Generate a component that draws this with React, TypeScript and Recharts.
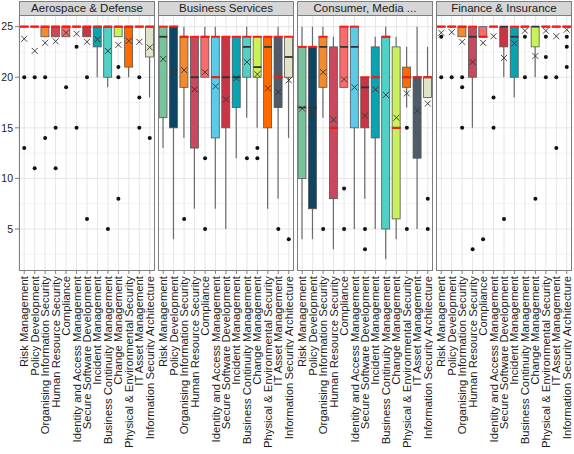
import { Bar, CartesianGrid, ComposedChart, Scatter, XAxis, YAxis } from "recharts"

const FONT = "'Liberation Sans', Arial, Helvetica, sans-serif"

const categories = [
  "Risk Management",
  "Policy Development",
  "Organising Information Security",
  "Human Resource Security",
  "Compliance",
  "Identity and Access Management",
  "Secure Software Development",
  "Incident Management",
  "Business Continuity Management",
  "Change Management",
  "Physical & Environmental Security",
  "IT Asset Management",
  "Information Security Architecture",
]

const colors = [
  "#78c39c", "#0f4564", "#f28b30", "#c9485c", "#fa6b6b", "#5ccbe8", "#cc3344",
  "#0aa3b2", "#4fd1c5", "#c9f25a", "#ff6a00", "#4f5b69", "#dfe3c8",
]

const yTicks = [5, 10, 15, 20, 25]
const yMinor = [2.5, 7.5, 12.5, 17.5, 22.5]

// Aerospace & Defense
const aeroLow = [25, 25, 24, 24, 24, 25, 24, 20, 19, 24, 20, 25, 18]
const aeroQ1 = [25, 25, 24, 24, 24, 25, 24, 23, 20, 24, 21, 25, 22]
const aeroMedian = [25, 25, 25, 25, 25, 25, 25, 25, 25, 25, 25, 25, 25]
const aeroQ3 = [25, 25, 25, 25, 25, 25, 25, 25, 25, 25, 25, 25, 25]
const aeroHigh = [25, 25, 25, 25, 25, 25, 25, 25, 25, 25, 25, 25, 25]
const aeroMean = [23.8, 22.6, 23.4, 23.55, 24.4, 24.3, 23.5, 23.75, 22.6, 23.2, 23.6, 23.5, 22.95]
const aeroOutliers = [[20, 13], [20, 11], [20, 14], [15, 11], [19], [23, 15], [20, 6], [], [5], [21, 20, 8], [], [20, 18, 15], [14]]
const aeroModes = [[25], [25], [25], [25], [25], [25], [25], [25], [25], [25], [25], [25], [25]]

// Business Services
const bizLow = [13, 4, 14, 7, 20, 7, 5, 12, 16, 15, 7, 8, 14]
const bizQ1 = [16, 15, 19, 13, 20, 14, 15, 17, 20, 20, 15, 17, 20]
const bizMedian = [24, 25, 24, 20, 24, 20, 20, 20, 23, 21, 23, 20, 22]
const bizQ3 = [25, 25, 24, 24, 24, 24, 24, 24, 24, 24, 24, 24, 24]
const bizHigh = [25, 25, 25, 24, 25, 25, 24, 24, 25, 24, 24, 25, 24]
const bizMean = [21.8, 20.4, 20.7, 18.8, 20.5, 19.1, 17.8, 19.9, 21.5, 20.3, 18.9, 18.55, 19.7]
const bizOutliers = [[], [], [6], [], [12, 5], [], [], [], [12], [13, 12], [], [5], [4]]
const bizModes = [[25], [25], [24], [24], [24], [24, 20], [24], [24], [24], [24], [24], [24, 20], [24]]

// Consumer, Media ...
const conLow = [4, 4, 16, 3, 19, 5, 8, 5, 2, 4, 17, 5, 18]
const conQ1 = [10, 7, 19, 8, 19, 15, 15, 14, 5, 6, 19, 12, 18]
const conMedian = [17, 17, 23, 15, 23, 23, 19, 20, 24, 15, 20, 20, 20]
const conQ3 = [23, 23, 24, 23, 25, 25, 20, 23, 24, 23, 21, 20, 20]
const conHigh = [25, 25, 25, 24, 25, 25, 20, 24, 25, 24, 23, 25, 23]
const conMean = [16.9, 16.5, 20.5, 15.8, 19.8, 19.0, 16.2, 18.8, 18.25, 16.0, 18.4, 16.7, 17.4]
const conOutliers = [[], [], [5], [], [9, 5], [], [5, 3], [], [], [], [15, 5], [], [8, 5]]
const conModes = [[23], [23], [24], [15], [25], [25], [20], [20], [24], [15], [20], [20], [20]]

// Finance & Insurance
const finLow = [25, 25, 24, 15, 24, 25, 20, 18, 25, 20, 25, 25, 25]
const finQ1 = [25, 25, 24, 20, 24, 25, 23, 20, 25, 23, 25, 25, 25]
const finMedian = [25, 25, 25, 24, 24, 25, 25, 24, 25, 25, 25, 25, 25]
const finQ3 = [25, 25, 25, 25, 25, 25, 25, 25, 25, 25, 25, 25, 25]
const finHigh = [25, 25, 25, 25, 25, 25, 25, 25, 25, 25, 25, 25, 25]
const finMean = [24.4, 24.45, 23.5, 21.5, 23.4, 24.05, 21.9, 23.35, 24.6, 22.1, 24.6, 24.05, 24.7]
const finOutliers = [[24, 20], [20], [20, 19, 15], [3], [4], [18, 15], [6], [], [24, 20], [8], [24, 22, 20], [20, 13], [24, 23, 21]]
const finModes = [[25], [25], [25], [25], [24], [25], [], [25], [25], [], [25], [25], [25]]

function buildRows(
  low: number[], q1: number[], median: number[], q3: number[], high: number[],
  mean: number[], outliers: number[][], modes: number[][],
) {
  return categories.map((name, i) => ({
    name,
    color: colors[i],
    whisker: [low[i], high[i]],
    box: [q1[i], q3[i]],
    median: median[i],
    mean: mean[i],
    o0: outliers[i][0],
    o1: outliers[i][1],
    o2: outliers[i][2],
    r0: modes[i][0],
    r1: modes[i][1],
  }))
}

const panels = [
  { title: "Aerospace & Defense", left: 19, rows: buildRows(aeroLow, aeroQ1, aeroMedian, aeroQ3, aeroHigh, aeroMean, aeroOutliers, aeroModes) },
  { title: "Business Services", left: 158, rows: buildRows(bizLow, bizQ1, bizMedian, bizQ3, bizHigh, bizMean, bizOutliers, bizModes) },
  { title: "Consumer, Media ...", left: 297, rows: buildRows(conLow, conQ1, conMedian, conQ3, conHigh, conMean, conOutliers, conModes) },
  { title: "Finance & Insurance", left: 436, rows: buildRows(finLow, finQ1, finMedian, finQ3, finHigh, finMean, finOutliers, finModes) },
]

const PANEL_W = 136
const PLOT_TOP = 15
const PLOT_BOTTOM = 271
const HALF = 4

const isMissing = (v: any) => v == null || Number.isNaN(v)

const WhiskerShape = (p: any) => {
  const top = Math.min(p.y, p.y + p.height)
  const h = Math.abs(p.height)
  if (!h) return <g />
  const cx = p.x + p.width / 2
  return <line x1={cx} x2={cx} y1={top} y2={top + h} stroke="#6b6b6b" strokeWidth={1.2} />
}

const BoxShape = (p: any) => {
  const top = Math.min(p.y, p.y + p.height)
  const h = Math.abs(p.height)
  if (h < 0.5) return <g />
  const fill = p.payload?.color ?? colors[p.index]
  return <rect x={p.x} y={top} width={p.width} height={h} fill={fill} stroke="#555" strokeWidth={0.8} />
}

const MedianShape = (p: any) =>
  isMissing(p.cy) ? <g /> : <line x1={p.cx - HALF} x2={p.cx + HALF} y1={p.cy} y2={p.cy} stroke="#333" strokeWidth={1.8} />

const ModeShape = (p: any) =>
  isMissing(p.cy) ? <g /> : <line x1={p.cx - HALF - 0.5} x2={p.cx + HALF + 0.5} y1={p.cy} y2={p.cy} stroke="#ff1a1a" strokeWidth={2} />

const MeanShape = (p: any) => {
  if (isMissing(p.cy)) return <g />
  const s = 3
  return (
    <g stroke="#333" strokeWidth={0.9}>
      <line x1={p.cx - s} x2={p.cx + s} y1={p.cy - s} y2={p.cy + s} />
      <line x1={p.cx - s} x2={p.cx + s} y1={p.cy + s} y2={p.cy - s} />
    </g>
  )
}

const DotShape = (p: any) =>
  isMissing(p.cy) ? <g /> : <circle cx={p.cx} cy={p.cy} r={2} fill="#111" />

function RotatedTick(props: any) {
  const { x, y, payload } = props
  return (
    <text
      x={x}
      y={y}
      transform={`rotate(-90 ${x} ${y})`}
      textAnchor="end"
      dominantBaseline="central"
      fontSize={11.3}
      fontFamily={FONT}
      fill="#1a1a1a"
    >
      {payload.value}
    </text>
  )
}

function Panel({ title, left, rows, showY }: { title: string; left: number; rows: any[]; showY: boolean }) {
  const yw = showY ? 19 : 0
  const h = 454 - PLOT_TOP
  return (
    <>
      <div style={{ position: "absolute", left: left - yw, top: PLOT_TOP, width: PANEL_W + yw, height: h }}>
        <ComposedChart width={PANEL_W + yw} height={h} data={rows} margin={{ top: 0, right: 0, bottom: 0, left: 0 }}>
          <CartesianGrid xAxisId="main" horizontalValues={yMinor} vertical={false} stroke="#f4f4f4" />
          <CartesianGrid xAxisId="main" horizontalValues={yTicks} stroke="#e6e6e6" />
          <XAxis
            xAxisId="main"
            dataKey="name"
            interval={0}
            height={454 - PLOT_BOTTOM}
            tick={<RotatedTick />}
            tickSize={3}
            tickMargin={2}
            axisLine={false}
            tickLine={{ stroke: "#7f7f7f" }}
          />
          <XAxis xAxisId="overlay" dataKey="name" hide />
          <YAxis
            domain={[0.85, 26.15]}
            ticks={yTicks}
            hide={!showY}
            width={19}
            axisLine={false}
            tickSize={4}
            tickMargin={2}
            tickLine={{ stroke: "#7f7f7f" }}
            tick={{ fontSize: 10.5, fill: "#1a1a1a", fontFamily: FONT }}
          />
          <Bar xAxisId="main" dataKey="whisker" barSize={8} shape={WhiskerShape} isAnimationActive={false} />
          <Bar xAxisId="overlay" dataKey="box" barSize={8} shape={BoxShape} isAnimationActive={false} />
          <Scatter xAxisId="main" dataKey="median" shape={MedianShape} isAnimationActive={false} />
          <Scatter xAxisId="main" dataKey="r0" shape={ModeShape} isAnimationActive={false} />
          <Scatter xAxisId="main" dataKey="r1" shape={ModeShape} isAnimationActive={false} />
          <Scatter xAxisId="main" dataKey="o0" shape={DotShape} isAnimationActive={false} />
          <Scatter xAxisId="main" dataKey="o1" shape={DotShape} isAnimationActive={false} />
          <Scatter xAxisId="main" dataKey="o2" shape={DotShape} isAnimationActive={false} />
          <Scatter xAxisId="main" dataKey="mean" shape={MeanShape} isAnimationActive={false} />
        </ComposedChart>
      </div>
      <div
        style={{
          position: "absolute", left, top: PLOT_TOP, width: PANEL_W, height: PLOT_BOTTOM - PLOT_TOP,
          border: "1px solid #7f7f7f", boxSizing: "border-box", pointerEvents: "none",
        }}
      />
      <div
        style={{
          position: "absolute", left, top: 1, width: PANEL_W, height: PLOT_TOP,
          background: "#d6d6d6", border: "1px solid #7f7f7f", boxSizing: "border-box",
          fontFamily: FONT, fontSize: 11.5, lineHeight: "13px", textAlign: "center", color: "#1a1a1a",
          whiteSpace: "nowrap", overflow: "hidden",
        }}
      >
        {title}
      </div>
    </>
  )
}

export default function App() {
  return (
    <div style={{ position: "absolute", left: 0, top: 0, width: 574, height: 454, background: "#fff" }}>
      {panels.map((p, i) => (
        <Panel key={p.title} title={p.title} left={p.left} rows={p.rows} showY={i === 0} />
      ))}
    </div>
  )
}
